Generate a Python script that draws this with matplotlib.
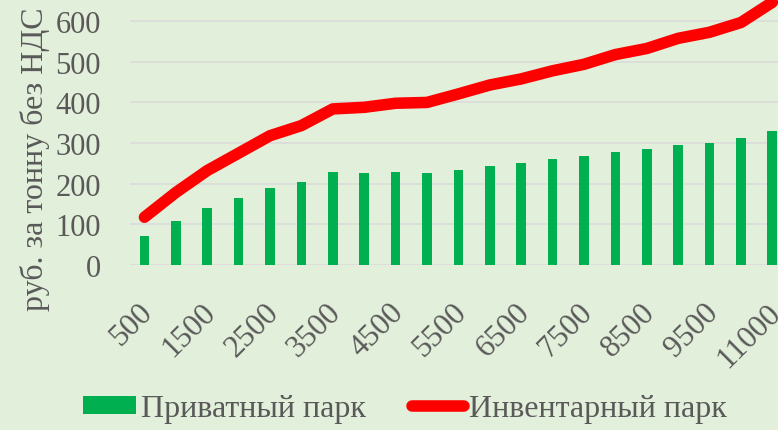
import matplotlib
matplotlib.use("Agg")
import matplotlib.pyplot as plt
import matplotlib.transforms as mtransforms
import numpy as np

categories = [500, 1000, 1500, 2000, 2500, 3000, 3500, 4000, 4500, 5000, 5500,
              6000, 6500, 7000, 7500, 8000, 8500, 9000, 9500, 10000, 11000]
private_park = [71, 108, 140, 165, 189, 205, 228, 227, 228, 225, 233,
                243, 250, 260, 267, 278, 284, 295, 301, 312, 329]
inventory_park = [117, 178, 232, 275, 318, 343, 384, 388, 398, 400, 421,
                  443, 458, 478, 494, 518, 533, 558, 573, 597, 647]
tick_labels = [str(c) for c in categories]

series_names = ["Приватный парк", "Инвентарный парк"]
ylabel = "руб. за тонну без НДС"

BG = "#E2EFDA"
TXT = "#595959"
FONT = ["Liberation Serif", "DejaVu Serif"]
plt.rcParams["font.family"] = FONT

W, H = 778, 431
fig = plt.figure(figsize=(W / 100, H / 100), dpi=100)
fig.patch.set_facecolor(BG)

left = 130 / W
bottom = 1 - 265.7 / H
ax = fig.add_axes([left, bottom, 1 - left, 1 - bottom])
ax.set_facecolor(BG)

x = np.arange(len(categories))
bars = ax.bar(x, private_park, width=0.31, color="#00B050", zorder=3,
              label=series_names[0])
line, = ax.plot(x, inventory_park, color="#FF0000", linewidth=8.3,
                solid_capstyle="round", solid_joinstyle="round", zorder=4,
                label=series_names[1])

ax.set_xlim(-0.46, 20.18)
ax.set_ylim(0, 655)
ax.set_yticks([0, 100, 200, 300, 400, 500, 600])
ax.yaxis.grid(True, color="#D9D9D9", linewidth=1.1, zorder=0)
ax.set_axisbelow(True)
for s in ax.spines.values():
    s.set_visible(False)

ax.tick_params(axis="y", length=0, pad=21, labelsize=22, labelcolor=TXT)
ax.set_xticks(x[::2])
ax.set_xticklabels(tick_labels[::2], rotation=45, ha="right", va="center",
                   rotation_mode="anchor", fontsize=22.5, color=TXT)
ax.tick_params(axis="x", length=0, pad=31)
shift = mtransforms.ScaledTranslation(4 / 100, 0, fig.dpi_scale_trans)
for lab in ax.get_xticklabels():
    lab.set_transform(lab.get_transform() + shift)

fig.text(35 / W, 1 - 159 / H, ylabel, rotation=90, ha="center", va="center",
         fontsize=23, color=TXT)

leg = fig.legend(handles=[bars, line], labels=series_names, loc="center",
                 bbox_to_anchor=(405 / W, 1 - 410 / H), ncol=2, frameon=False,
                 fontsize=23, handlelength=1.65, handleheight=0.5,
                 handletextpad=0.15, columnspacing=1.45, borderpad=0,
                 labelcolor=TXT)

fig.savefig("out.png", dpi=100, facecolor=BG)
